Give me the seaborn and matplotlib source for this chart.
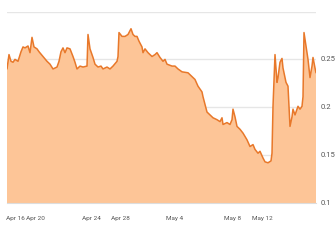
import matplotlib
matplotlib.use("Agg")
import matplotlib.pyplot as plt
import matplotlib.transforms as mtransforms
import seaborn as sns
import pandas as pd

# period index (sample position) and rate values
period = [0, 2, 4, 6, 8, 11, 14, 16, 18, 21, 23, 25, 27, 30, 32, 36, 40, 43, 46, 50,
          52, 54, 56, 58, 60, 63, 66, 68, 70, 73, 76, 80, 81, 83, 86, 88, 91, 94, 96, 100,
          103, 106, 110, 111, 112, 115, 118, 121, 124, 126, 128, 130, 132, 135, 136, 138, 141, 145, 148, 150,
          153, 156, 158, 160, 165, 168, 171, 175, 181, 185, 188, 191, 195, 196, 198, 200, 203, 206, 210, 213,
          215, 216, 220, 223, 225, 226, 228, 230, 233, 236, 240, 243, 246, 248, 251, 253, 256, 258, 261, 264,
          265, 266, 268, 270, 271, 273, 275, 276, 279, 281, 283, 285, 286, 288, 290, 291, 293, 295, 296, 297,
          300, 301, 303, 305, 306, 308, 309]
rate = [0.240, 0.255, 0.248, 0.247, 0.250, 0.248, 0.258, 0.263, 0.262, 0.264, 0.257, 0.273, 0.263, 0.261, 0.258, 0.253, 0.248, 0.245, 0.240, 0.242,
        0.248, 0.258, 0.262, 0.257, 0.262, 0.261, 0.253, 0.247, 0.240, 0.243, 0.242, 0.243, 0.276, 0.261, 0.252, 0.245, 0.242, 0.243, 0.240, 0.242,
        0.240, 0.243, 0.248, 0.253, 0.278, 0.274, 0.274, 0.276, 0.282, 0.276, 0.274, 0.274, 0.269, 0.263, 0.257, 0.261, 0.257, 0.253, 0.255, 0.257,
        0.252, 0.248, 0.250, 0.245, 0.243, 0.243, 0.240, 0.237, 0.236, 0.232, 0.229, 0.222, 0.216, 0.211, 0.203, 0.195, 0.192, 0.189, 0.187, 0.185,
        0.189, 0.182, 0.184, 0.182, 0.187, 0.198, 0.190, 0.180, 0.177, 0.173, 0.166, 0.159, 0.161, 0.156, 0.152, 0.154, 0.147, 0.143, 0.142, 0.144,
        0.152, 0.201, 0.255, 0.226, 0.231, 0.247, 0.251, 0.241, 0.226, 0.222, 0.180, 0.190, 0.198, 0.192, 0.198, 0.201, 0.198, 0.201, 0.211, 0.278,
        0.257, 0.250, 0.231, 0.243, 0.252, 0.241, 0.236]

tick_pos = [0, 28, 84, 113, 168, 226, 255]
tick_labels = ["Apr 16", "Apr 20", "Apr 24", "Apr 28", "May 4", "May 8", "May 12"]
y_ticks = [0.1, 0.15, 0.2, 0.25, 0.3]
y_labels = ["0.1", "0.15", "0.2", "0.25", ""]

df = pd.DataFrame({"period": period, "rate": rate})

sns.set_style("white")
plt.rcParams["font.family"] = ["Roboto", "DejaVu Sans"]

fig = plt.figure(figsize=(3.35, 2.40), dpi=100)
ax = fig.add_axes([7 / 335, 37 / 240, 309 / 335, (203 - 11.5) / 240])

fill_c = "#fdc597"
line_c = "#e8782a"

ax.fill_between(df["period"], 0, df["rate"], color=fill_c, lw=0, zorder=2)
sns.lineplot(data=df, x="period", y="rate", color=line_c, lw=1.1, ax=ax, zorder=3)

ax.set_xlim(0, 309)
ax.set_ylim(0.1, 0.3)
ax.set_xlabel("")
ax.set_ylabel("")

ax.set_yticks(y_ticks)
ax.set_yticklabels(y_labels)
ax.yaxis.tick_right()
ax.tick_params(axis="y", length=0, pad=3, labelsize=5.5, labelcolor="#555555")
for lbl in ax.get_yticklabels():
    lbl.set_verticalalignment("center")
for y in y_ticks[1:]:
    ax.axhline(y, color="#e6e6e6", lw=1.0, zorder=1)

ax.set_xticks(tick_pos)
ax.set_xticklabels(tick_labels)
ax.tick_params(axis="x", length=6, width=0.8, color="#dddddd", pad=3.5,
               labelsize=4.6, labelcolor="#555555", direction="out")
first = ax.get_xticklabels()[0]
first.set_horizontalalignment("left")
first.set_transform(first.get_transform() +
                    mtransforms.ScaledTranslation(-1 / 100, 0, fig.dpi_scale_trans))

for s in ["top", "right", "left"]:
    ax.spines[s].set_visible(False)
ax.spines["bottom"].set_color("#dddddd")
ax.spines["bottom"].set_linewidth(0.8)
ax.spines["bottom"].set_zorder(4)

fig.savefig("out.png", dpi=100)
